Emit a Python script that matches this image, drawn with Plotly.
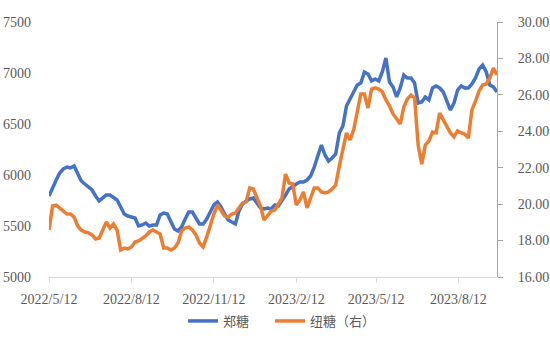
import pandas as pd
import plotly.graph_objects as go

# Sampling dates (every 4 calendar days)
dates = pd.date_range("2022-05-12", periods=126, freq="4D")

# 郑糖 (CZCE sugar, yuan/ton) - left axis
zheng_tang = [
    5794, 5882, 5951, 6020, 6059, 6078, 6069, 6088, 6010, 5941,
    5912, 5882, 5853, 5794, 5745, 5775, 5804, 5804, 5775, 5755,
    5686, 5618, 5598, 5588, 5578, 5500, 5510, 5529, 5500, 5510,
    5510, 5608, 5627, 5618, 5549, 5471, 5451, 5490, 5569, 5637,
    5637, 5578, 5520, 5520, 5569, 5637, 5706, 5735, 5686, 5618,
    5559, 5539, 5520, 5647, 5716, 5745, 5765, 5775, 5725, 5676,
    5667, 5676, 5667, 5706, 5696, 5745, 5804, 5863, 5892, 5912,
    5931, 5931, 5951, 5990, 6078, 6196, 6294, 6196, 6137, 6167,
    6206, 6412, 6480, 6676, 6755, 6814, 6882, 6902, 7010, 6990,
    6922, 6941, 6922, 7010, 7147, 6912, 6863, 6765, 6853, 6980,
    6951, 6951, 6902, 6706, 6716, 6765, 6735, 6853, 6873, 6853,
    6814, 6735, 6637, 6706, 6833, 6873, 6853, 6853, 6892, 6951,
    7039, 7078, 7010, 6882, 6863, 6814,
]

# 纽糖 (ICE raw sugar, US cents/lb) - right axis
niu_tang = [
    18.58, 19.90, 19.95, 19.79, 19.62, 19.46, 19.46, 19.29, 18.80, 18.58,
    18.47, 18.42, 18.31, 18.09, 18.14, 18.64, 19.02, 18.69, 18.91, 18.58,
    17.48, 17.59, 17.54, 17.65, 17.92, 17.98, 18.09, 18.25, 18.47, 18.58,
    18.47, 18.36, 17.59, 17.59, 17.48, 17.59, 17.87, 18.53, 18.69, 18.75,
    18.58, 18.31, 17.87, 17.65, 18.20, 18.85, 19.46, 19.95, 19.68, 19.35,
    19.29, 19.46, 19.51, 19.79, 20.06, 20.12, 20.89, 20.83, 20.34, 19.90,
    19.13, 19.40, 19.62, 19.68, 20.01, 20.34, 21.65, 21.16, 21.11, 19.95,
    20.23, 20.67, 19.79, 20.34, 20.89, 20.89, 20.67, 20.61, 20.67, 20.83,
    21.05, 22.09, 22.97, 23.91, 23.52, 24.07, 25.06, 26.05, 26.05, 25.28,
    26.32, 26.38, 26.32, 26.16, 25.72, 25.39, 24.95, 24.67, 24.40, 25.33,
    25.77, 25.99, 25.83, 23.25, 22.20, 23.25, 23.47, 23.96, 23.91, 25.00,
    24.62, 24.29, 23.91, 23.69, 24.02, 23.91, 23.85, 23.63, 25.17, 25.66,
    26.21, 26.54, 26.60, 26.93, 27.47, 27.09,
]

tick_dates = ["2022-05-12", "2022-08-12", "2022-11-12", "2023-02-12", "2023-05-12", "2023-08-12"]
tick_text = ["2022/5/12", "2022/8/12", "2022/11/12", "2023/2/12", "2023/5/12", "2023/8/12"]

BLUE = "#4472C4"
ORANGE = "#ED7D31"
TEXT = "#595959"
NUM_FONT = dict(family="Liberation Serif, Times New Roman, serif", size=14, color=TEXT)

fig = go.Figure()
fig.add_trace(go.Scatter(
    x=dates, y=zheng_tang, name="郑糖", mode="lines",
    line=dict(color=BLUE, width=3.5), yaxis="y", legendwidth=42,
))
fig.add_trace(go.Scatter(
    x=dates, y=niu_tang, name="纽糖（右）", mode="lines",
    line=dict(color=ORANGE, width=3.5), yaxis="y2", legendwidth=56,
))

fig.update_layout(
    width=550, height=341,
    margin=dict(l=49, r=53, t=22, b=64, autoexpand=False),
    paper_bgcolor="white", plot_bgcolor="white",
    showlegend=True,
    legend=dict(
        orientation="h", x=0.509, xanchor="center", y=-0.1725, yanchor="middle",
        font=dict(family="Noto Sans CJK SC, sans-serif", size=13, color=TEXT),
        bgcolor="rgba(0,0,0,0)",
    ),
    xaxis=dict(
        type="date",
        range=["2022-05-12", "2023-09-24"],
        tickmode="array", tickvals=tick_dates, ticktext=tick_text,
        showgrid=False, zeroline=False,
        showline=True, linecolor="#D9D9D9", linewidth=1,
        ticks="outside", ticklen=5, tickcolor="#D9D9D9",
        ticklabelstandoff=4,
        tickfont=NUM_FONT,
    ),
    yaxis=dict(
        range=[5000, 7500], dtick=500, tickformat="d",
        showgrid=False, zeroline=False, showline=False,
        ticks="", ticklabelstandoff=17,
        tickfont=NUM_FONT,
    ),
    yaxis2=dict(
        overlaying="y", side="right",
        range=[16, 30], dtick=2, tickformat=".2f",
        showgrid=False, zeroline=False,
        showline=True, linecolor="#A6A6A6", linewidth=1,
        ticks="outside", ticklen=5, tickcolor="#A6A6A6",
        ticklabelstandoff=12,
        tickfont=NUM_FONT,
    ),
)

fig.write_html("out.html")
